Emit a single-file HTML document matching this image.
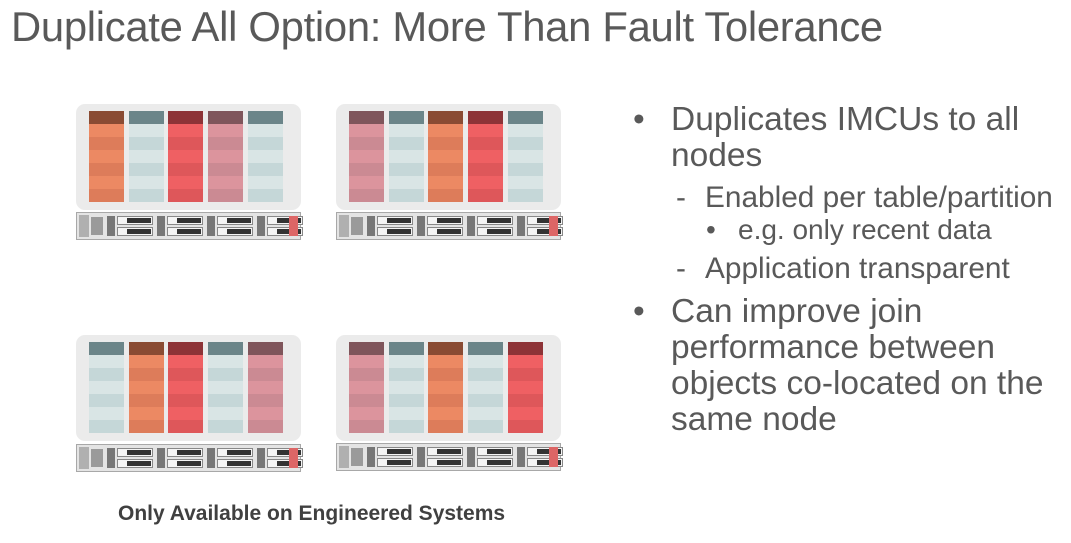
<!DOCTYPE html>
<html><head><meta charset="utf-8"><style>
body{margin:0;width:1071px;height:543px;background:#fff;position:relative;overflow:hidden;font-family:"Liberation Sans",Arial,sans-serif;color:#595959}
.t{position:absolute;white-space:nowrap}
.panel{position:absolute;width:225px;height:106px;background:#ebebeb;border-radius:9px}
.col{position:absolute;width:35px}
.srv{position:absolute;width:225px;height:28px;background:#e4e4e4;border:1px solid #a8a8a8;box-sizing:border-box}
.srv div{position:absolute}
</style></head><body>
<div class="t" style="left:11px;top:3px;font-size:41.8px;letter-spacing:-0.3px">Duplicate All Option: More Than Fault Tolerance</div>

<div id="g"></div>

<div class="t" style="left:633px;top:102px;font-size:33.5px;line-height:36px">•</div>
<div class="t" style="left:671px;top:102px;font-size:33.5px;line-height:36px">Duplicates IMCUs to all<br>nodes</div>
<div class="t" style="left:676px;top:182px;font-size:29.8px;line-height:32px">-</div>
<div class="t" style="left:705px;top:182px;font-size:29.8px;line-height:32px">Enabled per table/partition</div>
<div class="t" style="left:706px;top:214px;font-size:28px;line-height:32px">•</div>
<div class="t" style="left:738px;top:214px;font-size:28px;line-height:32px">e.g. only recent data</div>
<div class="t" style="left:676px;top:253px;font-size:29.8px;line-height:32px">-</div>
<div class="t" style="left:705px;top:253px;font-size:29.8px;line-height:32px">Application transparent</div>
<div class="t" style="left:633px;top:294px;font-size:33.5px;line-height:36px">•</div>
<div class="t" style="left:671px;top:294px;font-size:33.5px;line-height:36px">Can improve join<br>performance between<br>objects co-located on the<br>same node</div>

<div class="t" style="left:118px;top:502px;font-size:21px;font-weight:bold;color:#404040">Only Available on Engineered Systems</div>

<div id="x"></div>
<script>
var C={o:['#8a4b33','#ec8963','#dd7c5a'],t:['#6b8589','#d9e5e5','#c5d7d8'],r:['#8d3337','#ef6063','#de575a'],p:['#7f555b','#dc949d','#cb8a93']};
var P=[[76,104,212,'otrpt'],[336,104,212,'ptort'],[76,335,444,'tortp'],[336,335,443,'ptotr']];
var h='';
P.forEach(function(p){
 var x=p[0],y=p[1];
 h+='<div class="panel" style="left:'+x+'px;top:'+y+'px"></div>';
 for(var i=0;i<5;i++){var c=C[p[3][i]],cx=x+13+i*39.7;
  h+='<div class="col" style="left:'+cx+'px;top:'+(y+7)+'px;height:13px;background:'+c[0]+'"></div>';
  for(var k=0;k<6;k++)h+='<div class="col" style="left:'+cx+'px;top:'+(y+20+k*13)+'px;height:13px;background:'+c[1+(k%2)]+'"></div>';
 }
 var s='<div class="srv" style="left:'+x+'px;top:'+p[2]+'px">';
 s+='<div style="left:2px;top:2px;width:10px;height:22px;background:#b0b0b0"></div>';
 s+='<div style="left:14px;top:4px;width:12px;height:18px;background:#9a9a9a"></div>';
 for(var j=0;j<4;j++){var bx=30+j*50;
  s+='<div style="left:'+bx+'px;top:3px;width:8px;height:20px;background:#777"></div>';
  s+='<div style="left:'+(bx+10)+'px;top:3px;width:36px;height:9px;background:#f4f4f4;border:1px solid #888;box-sizing:border-box"></div>';
  s+='<div style="left:'+(bx+10)+'px;top:14px;width:36px;height:9px;background:#f4f4f4;border:1px solid #888;box-sizing:border-box"></div>';
  s+='<div style="left:'+(bx+20)+'px;top:5px;width:24px;height:5px;background:#333"></div>';
  s+='<div style="left:'+(bx+20)+'px;top:16px;width:24px;height:5px;background:#333"></div>';
 }
 s+='<div style="left:212px;top:3px;width:9px;height:20px;background:#d66"></div></div>';
 h+=s;
});
document.getElementById('g').innerHTML=h;
</script>
</body></html>
